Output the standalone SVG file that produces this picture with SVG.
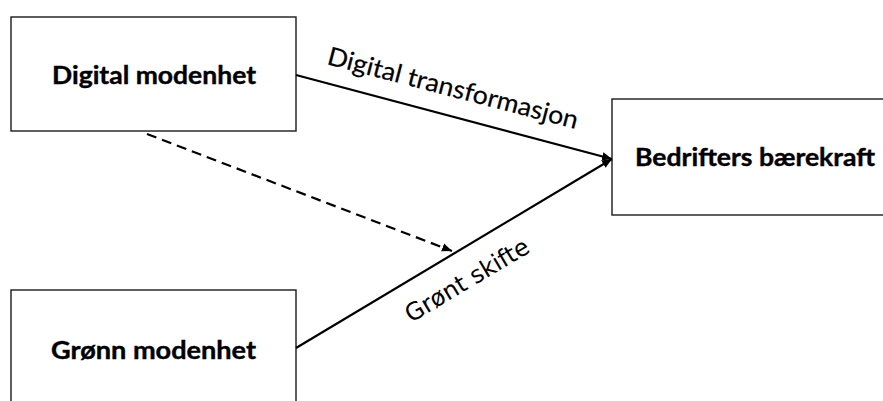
<svg xmlns="http://www.w3.org/2000/svg" width="883" height="401" viewBox="0 0 883 401">
  <style>
    .box { fill: #ffffff; stroke: #1a1a1a; stroke-width: 1.4; }
    .node-label { font-family: Lato, "Liberation Sans", sans-serif; font-weight: 700; font-size: 24.5px; fill: #000000; stroke: #000000; stroke-width: 0.4; }
    .edge { fill: none; stroke: #000000; stroke-width: 2.2; }
    .dashed { stroke-dasharray: 10 6; }
    .edge-label { font-family: Lato, "Liberation Sans", sans-serif; font-size: 25.5px; fill: #000000; stroke: #000000; stroke-width: 0.2; }
    .edge-label-alt { font-family: "DejaVu Sans", sans-serif; font-size: 24px; fill: #000000; }
  </style>
  <defs>
    <marker id="arrow" markerUnits="userSpaceOnUse" markerWidth="12" markerHeight="10" refX="10" refY="5" orient="auto">
      <path d="M0,0.8 L10,5 L0,9.2 Z" fill="#000000"/>
    </marker>
  </defs>
  <rect width="883" height="401" fill="#ffffff"/>

  <g id="digital-modenhet">
    <rect class="box" x="11" y="17" width="285" height="114"/>
    <text class="node-label" x="52" y="83.5" textLength="204" lengthAdjust="spacingAndGlyphs">Digital modenhet</text>
  </g>

  <g id="gronn-modenhet">
    <rect class="box" x="11" y="290" width="285" height="150"/>
    <text class="node-label" x="51" y="359" textLength="205" lengthAdjust="spacingAndGlyphs">Grønn modenhet</text>
  </g>

  <g id="bedrifters-baerekraft">
    <rect class="box" x="612" y="99" width="300" height="116"/>
    <text class="node-label" x="635" y="166" textLength="240" lengthAdjust="spacingAndGlyphs">Bedrifters bærekraft</text>
  </g>

  <g id="connectors">
    <line class="edge" x1="296" y1="75" x2="612" y2="159" marker-end="url(#arrow)"/>
    <line class="edge" x1="296" y1="348" x2="612" y2="159" marker-end="url(#arrow)"/>
    <line class="edge dashed" x1="147" y1="134" x2="452" y2="251" marker-end="url(#arrow)"/>
    <text class="edge-label" transform="translate(326 64) rotate(14.6)" textLength="258" lengthAdjust="spacingAndGlyphs">Digital transformasjon</text>
    <text class="edge-label-alt" transform="translate(411 323) rotate(-30.7)" textLength="140" lengthAdjust="spacingAndGlyphs">Grønt skifte</text>
  </g>
</svg>
